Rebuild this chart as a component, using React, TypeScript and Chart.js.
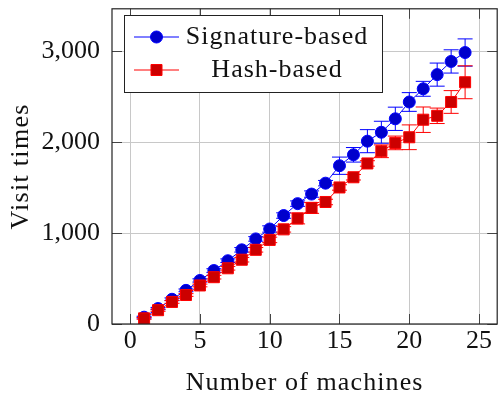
import React, { useEffect, useRef } from "react";
import { Chart, registerables } from "chart.js";

Chart.register(...registerables);

const machines = [1, 2, 3, 4, 5, 6, 7, 8, 9, 10, 11, 12, 13, 14, 15, 16, 17, 18, 19, 20, 21, 22, 23, 24];
const signatureTimes = [75, 170, 272, 370, 479, 588, 696, 816, 936, 1045, 1193, 1324, 1429, 1549, 1741, 1861, 2011, 2109, 2257, 2442, 2587, 2743, 2888, 2986];
const signatureErr = [10, 12, 15, 15, 18, 20, 20, 25, 25, 35, 30, 30, 35, 30, 95, 80, 127, 121, 128, 103, 82, 127, 128, 150];
const hashTimes = [62, 152, 243, 319, 424, 515, 613, 707, 816, 925, 1041, 1161, 1277, 1342, 1502, 1614, 1766, 1900, 1992, 2054, 2247, 2290, 2442, 2659];
const hashErr = [10, 12, 15, 15, 15, 20, 20, 25, 25, 30, 30, 60, 60, 30, 30, 30, 30, 70, 75, 136, 140, 85, 125, 181];
const seriesLabels = ["Signature-based", "Hash-based"];
const xTicks = [0, 5, 10, 15, 20, 25];
const yTicks = [0, 1000, 2000, 3000];
const yTickLabels = ["0", "1,000", "2,000", "3,000"];
const xTitle = "Number of machines";
const yTitle = "Visit times";

const FONT = "'Liberation Serif', 'Times New Roman', serif";
const BLUE_LINE = "rgb(0,0,255)";
const BLUE_FILL = "rgb(0,0,204)";
const RED_LINE = "rgb(255,0,0)";
const RED_FILL = "rgb(204,0,0)";
const errors = [signatureErr, hashErr];

const errorBarPlugin = {
  id: "errorBars",
  beforeDatasetDraw(chart: any, args: any) {
    const ds = chart.data.datasets[args.index];
    const err = errors[args.index];
    if (!err) return;
    const { ctx, scales } = chart;
    const xs = scales.x;
    const ys = scales.y;
    ctx.save();
    ctx.strokeStyle = ds.borderColor;
    ctx.lineWidth = 1;
    const cap = 7.5;
    ds.data.forEach((p: any, i: number) => {
      const x = xs.getPixelForValue(p.x);
      const yt = ys.getPixelForValue(p.y + err[i]);
      const yb = ys.getPixelForValue(p.y - err[i]);
      ctx.beginPath();
      ctx.moveTo(x, yt);
      ctx.lineTo(x, yb);
      ctx.moveTo(x - cap, yt);
      ctx.lineTo(x + cap, yt);
      ctx.moveTo(x - cap, yb);
      ctx.lineTo(x + cap, yb);
      ctx.stroke();
    });
    ctx.restore();
  },
};

const frameAndLegendPlugin = {
  id: "frameLegend",
  afterDraw(chart: any) {
    const { ctx, chartArea: a, scales } = chart;
    ctx.save();
    // inner tick marks
    ctx.strokeStyle = "#444";
    ctx.lineWidth = 1;
    const tl = 10;
    xTicks.forEach((v) => {
      const x = Math.round(scales.x.getPixelForValue(v)) + 0.5;
      ctx.beginPath();
      ctx.moveTo(x, a.bottom);
      ctx.lineTo(x, a.bottom - tl);
      ctx.moveTo(x, a.top);
      ctx.lineTo(x, a.top + tl);
      ctx.stroke();
    });
    yTicks.forEach((v) => {
      const y = Math.round(scales.y.getPixelForValue(v)) + 0.5;
      ctx.beginPath();
      ctx.moveTo(a.left, y);
      ctx.lineTo(a.left + tl, y);
      ctx.moveTo(a.right, y);
      ctx.lineTo(a.right - tl, y);
      ctx.stroke();
    });
    // frame
    ctx.strokeStyle = "#222";
    ctx.lineWidth = 1.2;
    ctx.strokeRect(a.left, a.top, a.right - a.left, a.bottom - a.top);

    // axis titles
    ctx.fillStyle = "#111";
    ctx.font = `26px ${FONT}`;
    ctx.textBaseline = "middle";
    ctx.textAlign = "center";
    (ctx as any).letterSpacing = "1.1px";
    ctx.fillText(xTitle, (a.left + a.right) / 2, 383);
    ctx.save();
    ctx.translate(21, (a.top + a.bottom) / 2);
    ctx.rotate(-Math.PI / 2);
    (ctx as any).letterSpacing = "1.3px";
    ctx.fillText(yTitle, 0, 0);
    ctx.restore();

    // legend
    const bx = 124.5, by = 15.5, bw = 258, bh = 77;
    ctx.fillStyle = "#fff";
    ctx.fillRect(bx, by, bw, bh);
    ctx.strokeStyle = "#222";
    ctx.lineWidth = 1;
    ctx.strokeRect(bx, by, bw, bh);
    const rows = [37, 70];
    chart.data.datasets.forEach((ds: any, i: number) => {
      const y = rows[i];
      ctx.strokeStyle = ds.borderColor;
      ctx.lineWidth = 1;
      ctx.beginPath();
      ctx.moveTo(134, y);
      ctx.lineTo(179, y);
      ctx.stroke();
      ctx.fillStyle = ds.pointBackgroundColor;
      ctx.strokeStyle = ds.borderColor;
      ctx.beginPath();
      if (ds.pointStyle === "rect") {
        ctx.rect(156.5 - 5.5, y - 5.5, 11, 11);
      } else {
        ctx.arc(156.5, y, 6, 0, Math.PI * 2);
      }
      ctx.fill();
      ctx.stroke();
      ctx.fillStyle = "#111";
      ctx.font = `26px ${FONT}`;
      ctx.textBaseline = "middle";
      ctx.textAlign = "center";
      (ctx as any).letterSpacing = "1px";
      ctx.fillText(ds.label, 277, y);
    });
    ctx.restore();
  },
};

export default function App() {
  const ref = useRef<HTMLCanvasElement>(null);
  useEffect(() => {
    if (!ref.current) return;
    const chart = new Chart(ref.current, {
      type: "line",
      data: {
        datasets: [
          {
            label: seriesLabels[0],
            data: machines.map((m, i) => ({ x: m, y: signatureTimes[i] })),
            borderColor: BLUE_LINE,
            backgroundColor: BLUE_FILL,
            pointBackgroundColor: BLUE_FILL,
            pointBorderColor: BLUE_LINE,
            pointBorderWidth: 1,
            pointStyle: "circle",
            pointRadius: 6,
            borderWidth: 1,
            tension: 0,
            order: 1,
          },
          {
            label: seriesLabels[1],
            data: machines.map((m, i) => ({ x: m, y: hashTimes[i] })),
            borderColor: RED_LINE,
            backgroundColor: RED_FILL,
            pointBackgroundColor: RED_FILL,
            pointBorderColor: RED_LINE,
            pointBorderWidth: 1,
            pointStyle: "rect",
            pointRadius: 7.8,
            borderWidth: 1,
            tension: 0,
            order: 0,
          },
        ],
      },
      plugins: [errorBarPlugin, frameAndLegendPlugin],
      options: {
        animation: false,
        responsive: false,
        maintainAspectRatio: false,
        layout: { padding: { top: 5, right: 2, left: 0, bottom: 0 } },
        plugins: { legend: { display: false }, tooltip: { enabled: false } },
        scales: {
          x: {
            type: "linear",
            min: -1.3,
            max: 26.3,
            afterBuildTicks: (s: any) => {
              s.ticks = xTicks.map((v) => ({ value: v }));
            },
            afterFit: (s: any) => {
              s.height = 79;
              s.paddingLeft = 0;
              s.paddingRight = 0;
              s.paddingTop = 0;
              s.paddingBottom = 0;
            },
            ticks: {
              color: "#111",
              padding: 2,
              font: { family: FONT, size: 26 },
              callback: (v: any) => String(v),
              maxRotation: 0,
            },
            grid: { color: "#c8c8c8", lineWidth: 1, drawTicks: false },
            border: { display: false },
          },
          y: {
            type: "linear",
            min: 0,
            max: 3467,
            afterBuildTicks: (s: any) => {
              s.ticks = yTicks.map((v) => ({ value: v }));
            },
            afterFit: (s: any) => {
              s.width = 112;
              s.paddingLeft = 0;
              s.paddingRight = 0;
              s.paddingTop = 0;
              s.paddingBottom = 0;
            },
            ticks: {
              color: "#111",
              padding: 12,
              font: { family: FONT, size: 26 },
              callback: (v: any) => yTickLabels[yTicks.indexOf(v)] ?? String(v),
            },
            grid: { color: "#c8c8c8", lineWidth: 1, drawTicks: false },
            border: { display: false },
          },
        },
      },
    } as any);
    return () => chart.destroy();
  }, []);
  return (
    <div style={{ position: "fixed", left: 0, top: 0, width: 498, height: 403, overflow: "hidden", background: "#fff" }}>
      <canvas ref={ref} width={506} height={403} style={{ display: "block", width: 506, height: 403 }} />
    </div>
  );
}
